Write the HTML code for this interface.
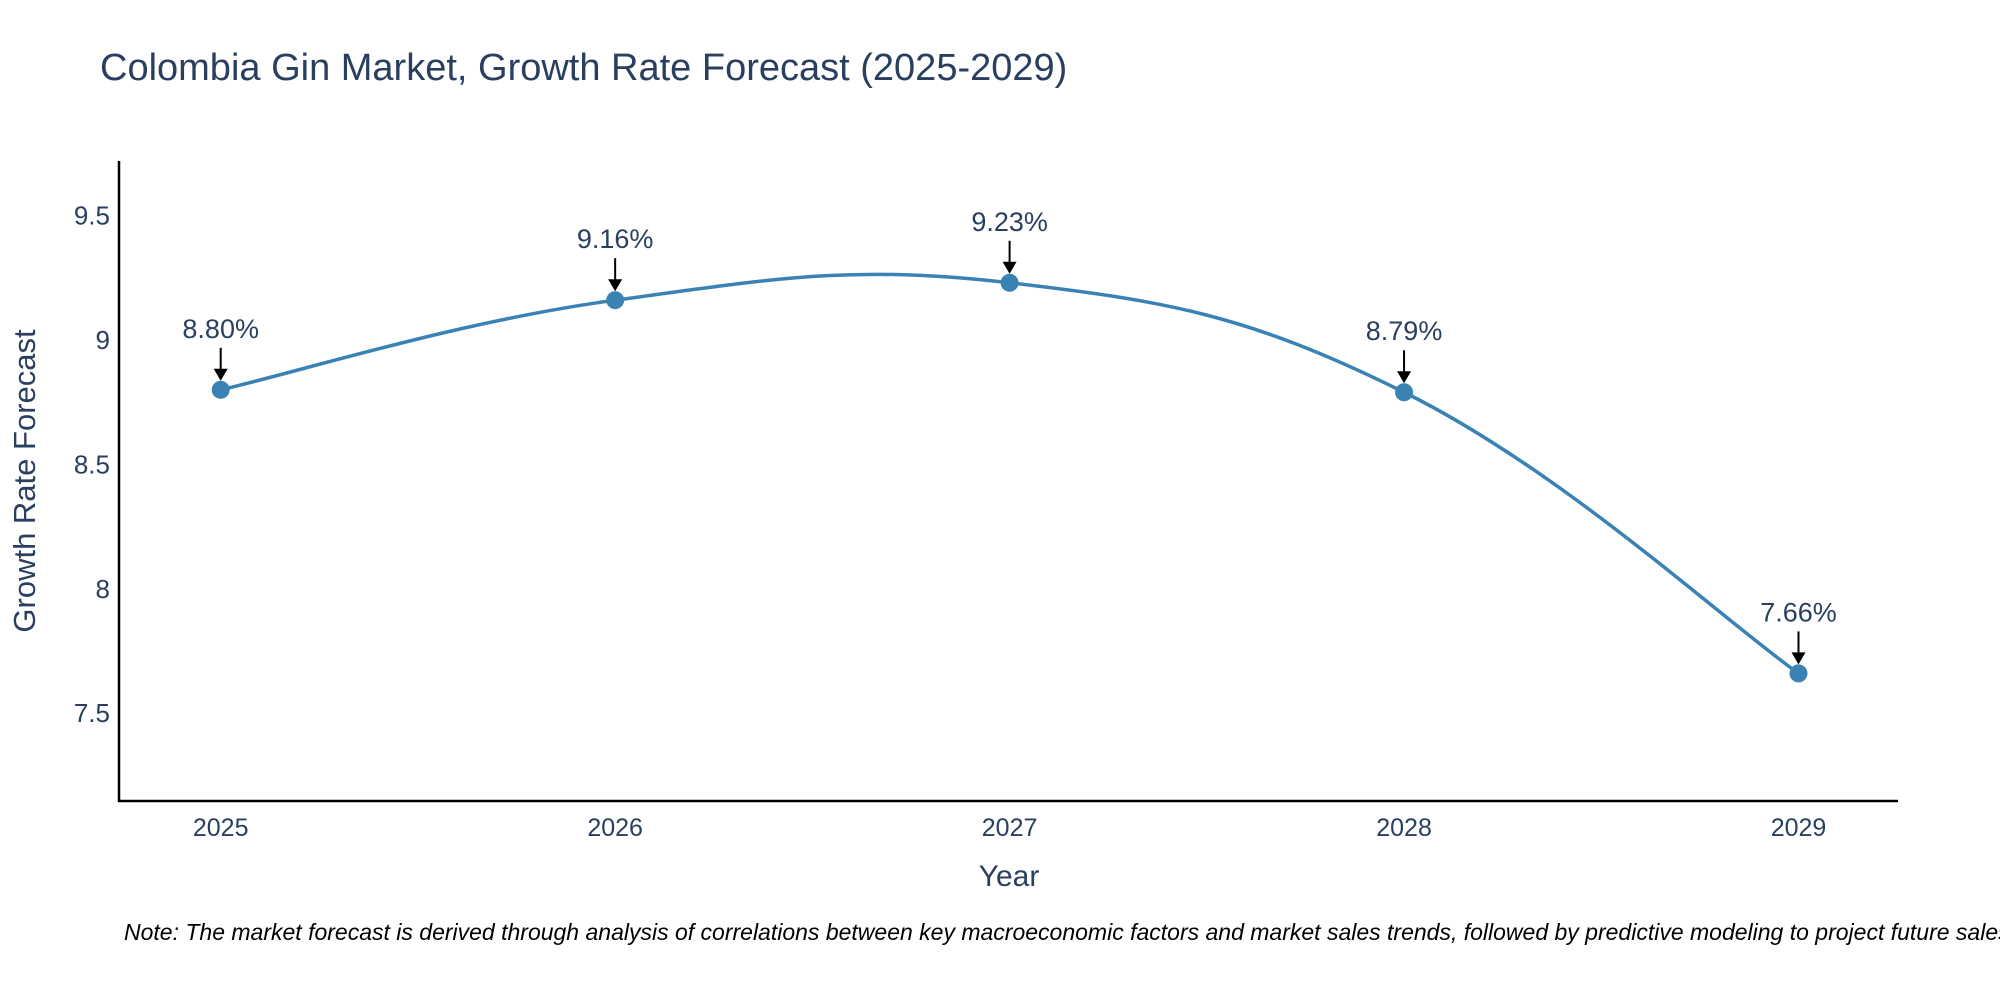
<!DOCTYPE html>
<html><head><meta charset="utf-8"><style>
body{margin:0;background:#fff;}
svg text{font-family:"Liberation Sans",Arial,sans-serif;fill:#2a3f5f;}
</style></head><body>
<svg id="chart" width="2000" height="1000" viewBox="0 0 2000 1000" xmlns="http://www.w3.org/2000/svg">
<rect width="2000" height="1000" fill="#fff"/>
<text x="100" y="80" font-size="38">Colombia Gin Market, Growth Rate Forecast (2025-2029)</text>
<g id="yticks"></g><g id="xticks"></g>
<line x1="119" y1="161" x2="119" y2="802" stroke="#000" stroke-width="2.5"/>
<line x1="118" y1="801" x2="1898" y2="801" stroke="#000" stroke-width="2.5"/>
<path id="line" fill="none" stroke="#3b82b4" stroke-width="3.5"/>
<g id="points"></g>
<text x="1009" y="886" font-size="30" text-anchor="middle">Year</text>
<text transform="translate(35,481) rotate(-90)" font-size="31" text-anchor="middle">Growth Rate Forecast</text>
<text x="124" y="940" font-size="23" font-style="italic" style="fill:#000">Note: The market forecast is derived through analysis of correlations between key macroeconomic factors and market sales trends, followed by predictive modeling to project future sales.</text>
</svg>
<script>
const years=["2025","2026","2027","2028","2029"];
const values=[8.80,9.16,9.23,8.79,7.66];
const labels=["8.80%","9.16%","9.23%","8.79%","7.66%"];
const yTicks=[7.5,8,8.5,9,9.5];
const yTickLabels=["7.5","8","8.5","9","9.5"];
const NS="http://www.w3.org/2000/svg";
function xs(i){return 220.7+i*(1798.5-220.7)/(years.length-1);}
function ys(v){return 215.6+(9.5-v)*248.8;}
function mk(t,a,p){const e=document.createElementNS(NS,t);for(const k in a)e.setAttribute(k,a[k]);if(p)p.appendChild(e);return e;}
const yt=document.getElementById('yticks');
yTicks.forEach((v,i)=>{const t=mk('text',{x:110,y:ys(v)+9,'font-size':26,'text-anchor':'end'},yt);


t.textContent=yTickLabels[i];});
const xt=document.getElementById('xticks');
years.forEach((y,i)=>{const t=mk('text',{x:xs(i),y:836,'font-size':25,'text-anchor':'middle'},xt);


t.textContent=y;});
const P=values.map((v,i)=>[xs(i),ys(v)]);
let d="M"+P[0][0]+","+P[0][1];
for(let i=0;i<P.length-1;i++){const p0=P[Math.max(i-1,0)],p1=P[i],p2=P[i+1],p3=P[Math.min(i+2,P.length-1)];
const k=0.2;
const c1=[p1[0]+(p2[0]-p0[0])*k,p1[1]+(p2[1]-p0[1])*k];
const c2=[p2[0]-(p3[0]-p1[0])*k,p2[1]-(p3[1]-p1[1])*k];
d+=` C${c1[0]},${c1[1]} ${c2[0]},${c2[1]} ${p2[0]},${p2[1]}`;}
document.getElementById('line').setAttribute('d',d);
const pg=document.getElementById('points');
P.forEach((p,i)=>{const c=mk('circle',{cx:p[0],cy:p[1],r:9,fill:'#3b82b4'},pg);


const l=mk('line',{x1:p[0],y1:p[1]-42,x2:p[0],y2:p[1]-20,stroke:'#000','stroke-width':2},pg);


const h=mk('polygon',{points:`${p[0]-7},${p[1]-21} ${p[0]+7},${p[1]-21} ${p[0]},${p[1]-9}`,fill:'#000'},pg);


const t=mk('text',{x:p[0],y:p[1]-52,'font-size':27,'text-anchor':'middle'},pg);


t.textContent=labels[i];});
</script>
</body></html>
